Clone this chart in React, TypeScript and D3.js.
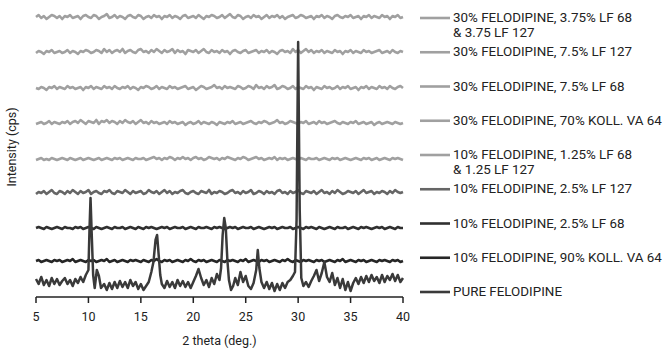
import React from "react";
import * as d3 from "d3";

// 2θ grid for the amorphous samples (0.25° steps from 5 to 40)
const gridStart = 5;
const gridStep = 0.25;

const seriesLabels: string[][] = [
  ["30% FELODIPINE, 3.75% LF 68", "& 3.75 LF 127"],
  ["30% FELODIPINE, 7.5% LF 127"],
  ["30% FELODIPINE, 7.5% LF 68"],
  ["30% FELODIPINE, 70% KOLL. VA 64"],
  ["10% FELODIPINE, 1.25% LF 68", "& 1.25 LF 127"],
  ["10% FELODIPINE, 2.5% LF 127"],
  ["10% FELODIPINE, 2.5% LF 68"],
  ["10% FELODIPINE, 90% KOLL. VA 64"],
  ["PURE FELODIPINE"],
];

// vertical stacking offsets (cps) of the amorphous patterns
const seriesOffsets = [280, 245, 209, 174, 138, 104, 69, 36];

const s1 = [
  0, 2, -1, 1, -2, 0, 2, 1, -1, 1,
  -2, 1, 0, 2, -1, 0, 1, -2, 1, 2,
  0, -1, 2, 1, -2, 0, 1, 3, -1, 0,
  2, -1, 1, 0, -2, 1, 2, 0, -1, 2,
  1, -2, 0, 1, -1, 2, 0, 1, -2, 1,
  0, 2, -1, 1, 0, -2, 1, 2, -1, 0,
  1, -1, 2, 0, -2, 1, 0, 2, 1, -1,
  0, 2, -1, 1, 3, 0, -1, 2, 1, -2,
  0, 1, -1, 2, 0, 1, -2, 0, 2, -1,
  1, 0, 2, -1, 1, -2, 0, 1, 2, -1,
  0, 2, 1, -1, 0, 1, -2, 1, 0, 2,
  -1, 1, 0, -2, 1, 2, 0, -1, 1, 0,
  2, -1, 0, 1, -2, 1, 0, 2, -1, 1,
  0, -1, 2, 0, 1, -2, 1, 0, 2, -1,
  0,
];
const s2 = [
  -1, 1, 0, -2, 1, 0, 2, -1, 0, 1,
  -1, 0, 2, -1, 1, 0, -2, 1, 0, 2,
  1, -1, 0, 2, 1, -1, 3, 0, 2, -1,
  1, 2, 0, 3, -1, 1, 2, 0, -1, 2,
  3, 0, 1, -1, 2, 0, 3, 1, -1, 2,
  0, 1, 3, -1, 2, 0, 1, -2, 2, 1,
  0, 2, -1, 1, 3, 0, -1, 2, 0, 1,
  -1, 2, 0, 1, -2, 1, 2, 0, -1, 1,
  2, -1, 0, 1, 2, -1, 1, 0, 2, -1,
  1, 0, -2, 1, 2, 0, 1, -1, 3, 0,
  2, -1, 1, 3, 0, 2, -1, 1, 0, 2,
  -1, 1, 0, -1, 2, 0, 1, -2, 1, 0,
  2, -1, 1, 0, -1, 2, 0, 1, -1, 0,
  1, 2, -1, 0, 1, -1, 2, 0, -1, 1,
  0,
];
const s3 = [
  0, -1, 1, 0, -2, 1, 0, 2, -1, 1,
  0, -1, 2, 0, 1, -1, 0, 1, -2, 1,
  0, 2, -1, 1, 0, -1, 2, 0, 1, -1,
  2, 0, -1, 1, 0, 2, -1, 1, 0, -2,
  1, 0, 2, 1, -1, 0, 2, -1, 1, 0,
  -1, 2, 0, 1, -1, 0, 1, 2, -1, 0,
  1, -2, 0, 2, 1, -1, 0, 1, 3, 0,
  1, -1, 2, 0, 1, 0, -1, 2, 1, -1,
  0, 2, 1, -1, 3, 0, 1, -1, 2, 0,
  1, 3, -1, 0, 2, 1, -1, 0, 2, -1,
  1, 0, -1, 2, 0, 1, -2, 1, 0, -1,
  2, 0, 1, -1, 0, 2, -1, 1, 0, 2,
  -1, 0, 1, -2, 1, 0, 2, -1, 1, 0,
  -1, 2, 0, 1, -1, 2, 0, -1, 1, 2,
  0,
];
const s4 = [
  -1, 0, 1, -1, 0, 2, -1, 1, 0, -1,
  1, 0, 2, -1, 1, 2, 0, 3, 1, -1,
  2, 1, 0, 3, -1, 2, 1, 3, 0, 2,
  1, -1, 2, 0, 3, 1, 0, 2, -1, 1,
  3, 0, 1, -1, 2, 0, 1, -1, 0, 1,
  -1, 2, 0, 1, -1, 0, 1, -2, 0, 1,
  -1, 0, 2, -1, 1, 0, -1, 1, 0, -2,
  1, 0, -1, 1, 0, 2, -1, 0, 1, -1,
  0, 1, 2, 0, -1, 1, 0, 2, 1, -1,
  0, 1, 3, 0, 1, -1, 0, 2, 1, 0,
  -1, 1, 0, 2, -1, 0, 1, -1, 2, 0,
  1, -1, 0, 1, 2, 0, -1, 1, 0, -1,
  1, 0, 2, -1, 0, 1, -1, 0, 1, -2,
  0, 1, -1, 0, 1, 0, -1, 1, 0, -1,
  0,
];
const s5 = [
  -1, 0, 1, -1, 0, -1, 1, 0, -1, 0,
  1, 0, -1, 1, 0, -1, 0, 1, -1, 0,
  1, 0, -1, 0, 1, -1, 0, 1, 0, -1,
  1, 0, 1, -1, 0, 1, 0, -1, 1, 0,
  0, 1, -1, 0, 1, 2, 0, 1, -1, 1,
  0, 2, 1, -1, 1, 0, 2, 0, 1, -1,
  1, 2, 0, 1, -1, 0, 2, 1, 0, 1,
  -1, 1, 0, 2, 1, 0, -1, 1, 0, 2,
  1, -1, 0, 1, 2, 0, 1, -1, 0, 1,
  0, 2, -1, 1, 0, 1, -1, 0, 1, 0,
  -1, 1, 0, -1, 1, 0, 0, 1, -1, 0,
  1, 0, -1, 1, 0, 1, -1, 0, 1, 0,
  -1, 0, 1, 0, -1, 1, 0, 1, -1, 0,
  1, -1, 0, 1, 0, -1, 1, 0, 1, 0,
  -1,
];
const s6 = [
  -1, 1, 0, 2, -1, 1, 3, 0, -1, 2,
  1, -1, 2, 0, 3, 1, -1, 2, 0, 1,
  3, -1, 1, 2, 0, -1, 2, 1, 3, 0,
  -1, 2, 1, 0, 3, 1, -1, 2, 0, 1,
  2, -1, 0, 3, 1, 0, 2, -1, 1, 3,
  0, 2, -1, 1, 0, 2, 3, 0, -1, 1,
  2, 0, -1, 2, 1, 0, 3, -1, 1, 0,
  2, 1, -1, 0, 2, 3, 0, 1, -1, 2,
  0, 1, 3, -1, 0, 2, 1, -1, 2, 0,
  1, -1, 2, 3, 0, 1, -1, 2, 0, 1,
  3, 0, -1, 2, 1, 0, 2, -1, 1, 3,
  0, 1, -1, 2, 0, 3, 1, -1, 0, 2,
  1, 0, 2, -1, 1, 3, 0, 1, 2, -1,
  1, 0, 2, 1, -1, 2, 0, 3, 1, 0,
  1,
];
const s7 = [
  0, 1, 0, -1, 1, 0, -1, 0, 1, 0,
  -1, 1, 0, 0, -1, 1, 0, 1, -1, 0,
  1, 0, -1, 1, 0, -1, 0, 1, 0, -1,
  1, 0, 0, 1, -1, 0, 1, 0, -1, 1,
  0, -1, 1, 0, 1, 0, -1, 0, 1, 0,
  1, -1, 0, 1, 0, 0, 1, -1, 0, 1,
  0, -1, 1, 0, 0, 1, 0, -1, 1, 0,
  1, 0, -1, 0, 1, 0, 1, -1, 0, 1,
  0, 0, 1, -1, 0, 1, 0, -1, 0, 1,
  0, 1, -1, 0, 1, 0, 0, 1, -1, 0,
  1, 0, -1, 1, 0, 1, 0, -1, 1, 0,
  -1, 0, 1, 0, -1, 1, 0, 0, 1, -1,
  0, 1, 0, -1, 1, 0, 1, 0, -1, 0,
  1, 0, 1, -1, 0, 1, 0, -1, 1, 0,
  0,
];
const s8 = [
  0, 1, -1, 0, 1, 0, -1, 1, 0, 1,
  -1, 0, 1, 0, 2, -1, 0, 1, 0, -1,
  1, 0, 1, -1, 0, 1, 0, 2, -1, 0,
  1, -1, 0, 1, 0, -1, 1, 0, 1, 0,
  -1, 1, 0, -1, 1, 0, 2, 0, -1, 1,
  0, 1, -1, 0, 1, 0, -1, 1, 0, 2,
  0, -1, 1, 0, 1, -1, 0, 1, 0, -1,
  1, 0, -1, 1, 0, 1, 0, -1, 1, 0,
  2, -1, 0, 1, 0, -1, 1, 0, 1, -1,
  0, 1, 0, -1, 1, 0, 2, 0, -1, 1,
  0, -1, 1, 0, 1, 0, -1, 1, 0, 1,
  -1, 0, 1, 0, -1, 1, 0, 2, -1, 0,
  1, 0, -1, 1, 0, 1, -1, 0, 1, 0,
  -1, 1, 0, 1, 0, -1, 1, 0, 1, -1,
  0,
];

// Pure felodipine: 2θ and intensity (cps)
const pureTheta = [
  5.0, 5.25, 5.5, 5.75, 6.0, 6.25, 6.5, 6.75, 7.0, 7.25, 7.5, 7.75, 8.0, 8.25, 8.5, 8.75,
  9.0, 9.25, 9.5, 9.75, 10.0, 10.1, 10.2, 10.3, 10.45, 10.6, 10.8, 11.0, 11.2, 11.5, 11.75,
  12.0, 12.25, 12.5, 12.75, 13.0, 13.25, 13.5, 13.75, 14.0, 14.25, 14.5, 14.75, 15.0, 15.25,
  15.5, 15.75, 16.0, 16.2, 16.4, 16.55, 16.7, 16.85, 17.0, 17.25, 17.5, 17.75, 18.0, 18.25,
  18.5, 18.75, 19.0, 19.25, 19.5, 19.75, 20.0, 20.25, 20.5, 20.75, 21.0, 21.25, 21.5, 21.75,
  22.0, 22.25, 22.5, 22.65, 22.8, 22.95, 23.1, 23.25, 23.4, 23.6, 23.8, 24.0, 24.25, 24.5,
  24.75, 25.0, 25.25, 25.5, 25.75, 26.0, 26.15, 26.3, 26.5, 26.75, 27.0, 27.25, 27.5, 27.75,
  28.0, 28.25, 28.5, 28.75, 29.0, 29.25, 29.5, 29.7, 29.85, 30.0, 30.15, 30.3, 30.5, 30.75,
  31.0, 31.25, 31.5, 31.75, 32.0, 32.25, 32.5, 32.75, 33.0, 33.25, 33.5, 33.75, 34.0, 34.25,
  34.5, 34.75, 35.0, 35.25, 35.5, 35.75, 36.0, 36.25, 36.5, 36.75, 37.0, 37.25, 37.5, 37.75,
  38.0, 38.25, 38.5, 38.75, 39.0, 39.25, 39.5, 39.75, 40.0,
];
const pureIntensity = [
  18, 13, 20, 12, 17, 11, 19, 13, 18, 12, 16, 19, 13, 17, 11, 18,
  14, 20, 15, 22, 27, 67, 99, 67, 22, 9, 27, 21, 9, 13, 7,
  14, 8, 15, 9, 16, 10, 15, 9, 17, 11, 15, 8, 13, 7,
  11, 15, 25, 35, 57, 62, 42, 22, 13, 9, 16, 10, 15, 9,
  17, 11, 16, 10, 15, 9, 15, 21, 28, 19, 12, 17, 10, 19,
  13, 23, 17, 29, 62, 79, 69, 37, 17, 7, 11, 19, 12, 25,
  15, 21, 11, 8, 14, 27, 47, 29, 15, 9, 15, 8, 14, 6,
  13, 7, 14, 9, 15, 17, 21, 25, 77, 255, 87, 19, 11, 15,
  10, 16, 21, 27, 16, 24, 35, 20, 15, 24, 12, 19, 9, 18,
  7, 15, 6, 14, 19, 13, 20, 14, 21, 15, 22, 16, 20, 14,
  22, 15, 21, 17, 23, 16, 22, 15, 19,
];

const xTicks = [5, 10, 15, 20, 25, 30, 35, 40];

const amorphous = [s1, s2, s3, s4, s5, s6, s7, s8];
const lineColors = ["#a0a0a0", "#a0a0a0", "#a0a0a0", "#a0a0a0", "#a0a0a0", "#666666", "#303030", "#262626", "#3a3a3a"];

export default function App() {
  const W = 672;
  const H = 350;
  const x = d3.scaleLinear().domain([5, 40]).range([36, 403]);
  const y = d3.scaleLinear().domain([0, 287]).range([297, 10]);
  const line = d3
    .line<[number, number]>()
    .x((d) => x(d[0]))
    .y((d) => y(d[1]))
    .curve(d3.curveLinear);

  const amPaths = amorphous.map((arr, i) =>
    line(arr.map((v, j) => [gridStart + j * gridStep, seriesOffsets[i] + v] as [number, number]))
  );
  const purePath = line(pureTheta.map((t, j) => [t, pureIntensity[j]] as [number, number]));

  const legendY = (i: number) => 18 + i * 34.25;
  const font = "Roboto, 'Noto Sans', sans-serif";

  return (
    <svg width={W} height={H} style={{ position: "absolute", left: 0, top: 0, background: "#fff" }}>
      {amPaths.map((p, i) => (
        <path key={i} d={p || ""} fill="none" stroke={lineColors[i]} strokeWidth={2.6} strokeLinejoin="round" />
      ))}
      <path d={purePath || ""} fill="none" stroke={lineColors[8]} strokeWidth={2.5} strokeLinejoin="round" />

      {/* x axis */}
      <line x1={x(5)} x2={x(40)} y1={297} y2={297} stroke="#222" strokeWidth={1.5} />
      {xTicks.map((t) => (
        <g key={t}>
          <line x1={x(t)} x2={x(t)} y1={297} y2={303} stroke="#222" strokeWidth={1.5} />
          <text x={x(t)} y={321} textAnchor="middle" fontFamily={font} fontSize={12.5} fill="#222">
            {t}
          </text>
        </g>
      ))}
      <text x={219.5} y={345} textAnchor="middle" fontFamily={font} fontSize={12.5} fill="#222">
        2 theta (deg.)
      </text>
      <text
        transform={`translate(16,147) rotate(-90)`}
        textAnchor="middle"
        fontFamily={font}
        fontSize={12.5}
        fill="#222"
      >
        Intensity (cps)
      </text>

      {/* legend */}
      {seriesLabels.map((lab, i) => (
        <g key={i}>
          <line x1={420} x2={450} y1={legendY(i)} y2={legendY(i)} stroke={lineColors[i]} strokeWidth={2.6} />
          {lab.map((s, k) => (
            <text
              key={k}
              x={453}
              y={legendY(i) + 4 + k * 14.5}
              fontFamily={font}
              fontSize={13.4}
              fill="#222"
            >
              {s}
            </text>
          ))}
        </g>
      ))}
    </svg>
  );
}
